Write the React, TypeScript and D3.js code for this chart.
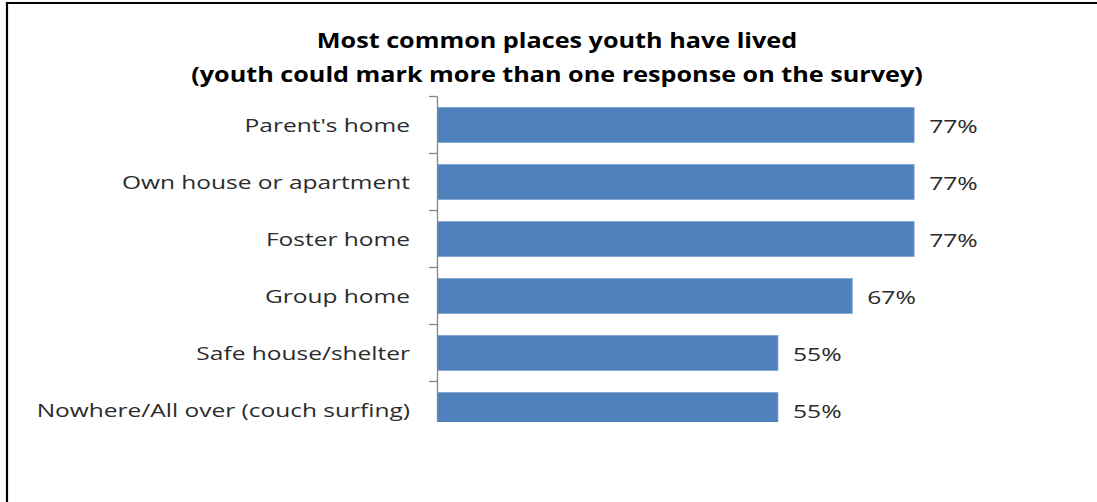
import React from "react";
import * as d3 from "d3";

const categories = [
  "Parent's home",
  "Own house or apartment",
  "Foster home",
  "Group home",
  "Safe house/shelter",
  "Nowhere/All over (couch surfing)",
];
const values = [77, 77, 77, 67, 55, 55];
const titleLines = [
  "Most common places youth have lived",
  "(youth could mark more than one response on the survey)",
];

const W = 1097;
const H = 502;
const FONT = "'Open Sans', 'Noto Sans', sans-serif";

function SText(props: {
  x: number;
  y: number;
  sx: number;
  anchor?: string;
  size: number;
  weight?: string;
  fill: string;
  dy?: string;
  children: React.ReactNode;
}) {
  return (
    <text
      transform={`translate(${props.x},${props.y}) scale(${props.sx},1)`}
      dy={props.dy}
      textAnchor={props.anchor || "start"}
      fontFamily={FONT}
      fontSize={props.size}
      fontWeight={props.weight || "normal"}
      fill={props.fill}
    >
      {props.children}
    </text>
  );
}

export default function App() {
  const y = d3
    .scaleBand<string>()
    .domain(categories)
    .range([96.5, 438.5])
    .paddingInner(0.386)
    .paddingOuter(0.193);
  const x = d3.scaleLinear().domain([0, 100]).range([437.5, 1056.5]);
  const axisTop = 96.5;
  const axisBottom = 422;
  const boundaries = categories.map((c) => (y(c) as number) - (y.step() * y.paddingInner()) / 2);

  return (
    <svg
      width={W}
      height={H}
      style={{ position: "absolute", left: 0, top: 0, background: "#fff" }}
    >
      <defs>
        <clipPath id="plotclip">
          <rect x={0} y={axisTop} width={W} height={axisBottom - axisTop} />
        </clipPath>
      </defs>
      <rect x={0} y={0} width={W} height={H} fill="#fff" />
      <path d={`M7,${H + 5} V3 H${W + 5}`} fill="none" stroke="#000" strokeWidth={2.2} />
      {titleLines.map((t, i) => (
        <SText key={i} x={557} y={48 + i * 33.5} sx={1.2} anchor="middle" size={21} weight="bold" fill="#000">
          {t}
        </SText>
      ))}
      <g clipPath="url(#plotclip)">
        {categories.map((c, i) => (
          <rect
            key={c}
            x={x(0)}
            y={y(c)}
            width={x(values[i]) - x(0)}
            height={y.bandwidth()}
            fill="#4F81BD"
            stroke="#7FA2CF"
            strokeWidth={0.8}
          />
        ))}
      </g>
      <line x1={437.5} x2={437.5} y1={axisTop} y2={axisBottom} stroke="#868686" strokeWidth={1.3} />
      {boundaries.map((b, i) => (
        <line key={i} x1={429} x2={437.5} y1={b} y2={b} stroke="#868686" strokeWidth={1.3} />
      ))}
      {categories.map((c) => (
        <SText
          key={c}
          x={410}
          y={(y(c) as number) + y.bandwidth() / 2}
          dy="0.35em"
          sx={1.29}
          anchor="end"
          size={19}
          fill="#2b2b2b"
        >
          {c}
        </SText>
      ))}
      {categories.map((c, i) => (
        <SText
          key={c}
          x={x(values[i]) + 15}
          y={(y(c) as number) + y.bandwidth() / 2 + 1.5}
          dy="0.35em"
          sx={1.3}
          size={19}
          fill="#2b2b2b"
        >
          {d3.format(".0f")(values[i]) + "%"}
        </SText>
      ))}
    </svg>
  );
}
